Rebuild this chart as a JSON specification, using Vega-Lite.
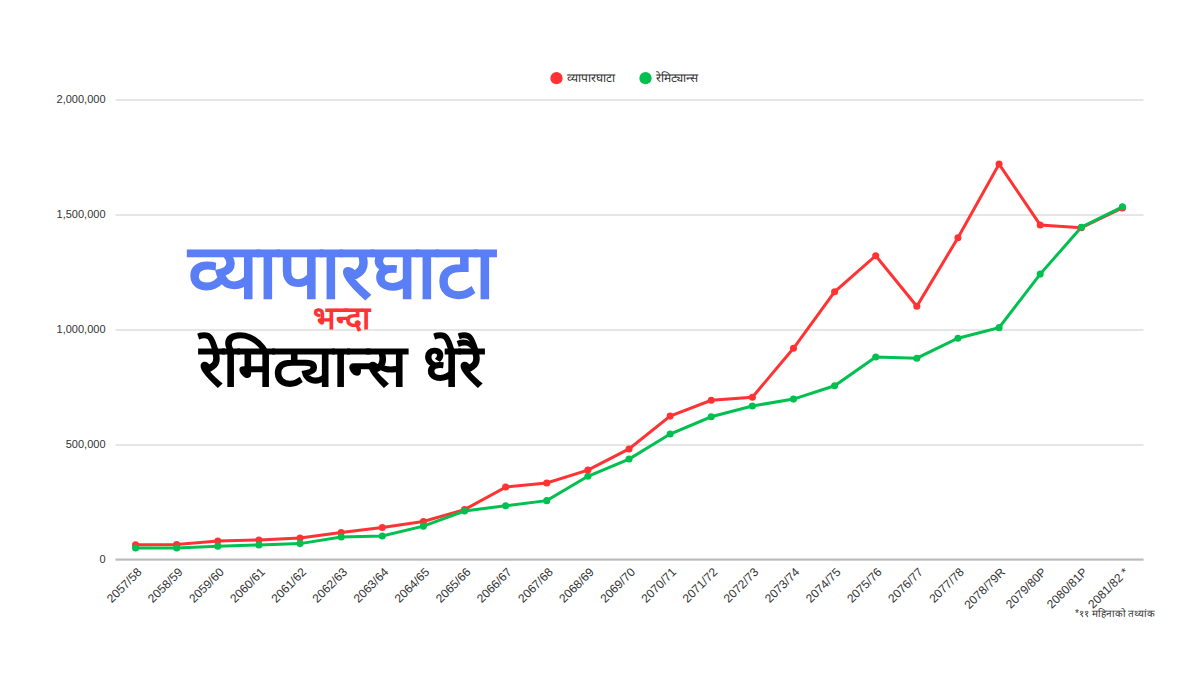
{
  "$schema": "https://vega.github.io/schema/vega-lite/v6.json",
  "width": 1028,
  "height": 459.5,
  "autosize": {"type": "none"},
  "padding": {"left": 115, "top": 99.5, "right": 57, "bottom": 116},
  "background": "white",
  "config": {"view": {"stroke": null}, "font": "Liberation Sans"},
  "datasets": {
    "series": [
      {"year": "2057/58", "series": "व्यापारघाटा", "value": 62000},
      {"year": "2058/59", "series": "व्यापारघाटा", "value": 63000},
      {"year": "2059/60", "series": "व्यापारघाटा", "value": 78000},
      {"year": "2060/61", "series": "व्यापारघाटा", "value": 83000},
      {"year": "2061/62", "series": "व्यापारघाटा", "value": 91000},
      {"year": "2062/63", "series": "व्यापारघाटा", "value": 115000},
      {"year": "2063/64", "series": "व्यापारघाटा", "value": 137000},
      {"year": "2064/65", "series": "व्यापारघाटा", "value": 163000},
      {"year": "2065/66", "series": "व्यापारघाटा", "value": 215000},
      {"year": "2066/67", "series": "व्यापारघाटा", "value": 313000},
      {"year": "2067/68", "series": "व्यापारघाटा", "value": 331000},
      {"year": "2068/69", "series": "व्यापारघाटा", "value": 387000},
      {"year": "2069/70", "series": "व्यापारघाटा", "value": 479000},
      {"year": "2070/71", "series": "व्यापारघाटा", "value": 622000},
      {"year": "2071/72", "series": "व्यापारघाटा", "value": 691000},
      {"year": "2072/73", "series": "व्यापारघाटा", "value": 704000},
      {"year": "2073/74", "series": "व्यापारघाटा", "value": 917000},
      {"year": "2074/75", "series": "व्यापारघाटा", "value": 1163000},
      {"year": "2075/76", "series": "व्यापारघाटा", "value": 1320000},
      {"year": "2076/77", "series": "व्यापारघाटा", "value": 1100000},
      {"year": "2077/78", "series": "व्यापारघाटा", "value": 1398000},
      {"year": "2078/79R", "series": "व्यापारघाटा", "value": 1719000},
      {"year": "2079/80P", "series": "व्यापारघाटा", "value": 1454000},
      {"year": "2080/81P", "series": "व्यापारघाटा", "value": 1442000},
      {"year": "2081/82 *", "series": "व्यापारघाटा", "value": 1528000},
      {"year": "2057/58", "series": "रेमिट्यान्स", "value": 48000},
      {"year": "2058/59", "series": "रेमिट्यान्स", "value": 48000},
      {"year": "2059/60", "series": "रेमिट्यान्स", "value": 56000},
      {"year": "2060/61", "series": "रेमिट्यान्स", "value": 61000},
      {"year": "2061/62", "series": "रेमिट्यान्स", "value": 67000},
      {"year": "2062/63", "series": "रेमिट्यान्स", "value": 96000},
      {"year": "2063/64", "series": "रेमिट्यान्स", "value": 100000},
      {"year": "2064/65", "series": "रेमिट्यान्स", "value": 143000},
      {"year": "2065/66", "series": "रेमिट्यान्स", "value": 209000},
      {"year": "2066/67", "series": "रेमिट्यान्स", "value": 232000},
      {"year": "2067/68", "series": "रेमिट्यान्स", "value": 254000},
      {"year": "2068/69", "series": "रेमिट्यान्स", "value": 360000},
      {"year": "2069/70", "series": "रेमिट्यान्स", "value": 435000},
      {"year": "2070/71", "series": "रेमिट्यान्स", "value": 544000},
      {"year": "2071/72", "series": "रेमिट्यान्स", "value": 619000},
      {"year": "2072/73", "series": "रेमिट्यान्स", "value": 666000},
      {"year": "2073/74", "series": "रेमिट्यान्स", "value": 696000},
      {"year": "2074/75", "series": "रेमिट्यान्स", "value": 754000},
      {"year": "2075/76", "series": "रेमिट्यान्स", "value": 879000},
      {"year": "2076/77", "series": "रेमिट्यान्स", "value": 874000},
      {"year": "2077/78", "series": "रेमिट्यान्स", "value": 961000},
      {"year": "2078/79R", "series": "रेमिट्यान्स", "value": 1007000},
      {"year": "2079/80P", "series": "रेमिट्यान्स", "value": 1240000},
      {"year": "2080/81P", "series": "रेमिट्यान्स", "value": 1444000},
      {"year": "2081/82 *", "series": "रेमिट्यान्स", "value": 1533000}
    ]
  },
  "layer": [
    {
      "data": {"name": "series"},
      "mark": {"type": "line", "strokeWidth": 3},
      "encoding": {
        "x": {
          "field": "year", "type": "ordinal", "sort": null,
          "scale": {"type": "point", "padding": 0.5},
          "axis": {
            "labelAngle": -45, "labelFontSize": 12, "labelColor": "#333333",
            "ticks": false, "grid": false, "domainColor": "#bbbbbb", "domainWidth": 2,
            "labelPadding": 7,
            "title": "*११ महिनाको तथ्यांक", "titleFontSize": 10, "titleFontWeight": "normal",
            "titleColor": "#333333", "titleAlign": "right", "titleBaseline": "middle",
            "titleX": 1040, "titleY": 54
          }
        },
        "y": {
          "field": "value", "type": "quantitative",
          "scale": {"domain": [0, 2000000]},
          "axis": {
            "values": [0, 500000, 1000000, 1500000, 2000000], "format": ",d",
            "title": null, "domain": false, "ticks": false, "labelPadding": 10,
            "labelFontSize": 11, "labelColor": "#333333", "gridColor": "#cccccc"
          }
        },
        "color": {
          "field": "series", "type": "nominal", "sort": null,
          "scale": {"domain": ["व्यापारघाटा", "रेमिट्यान्स"], "range": ["#ff3333", "#00c050"]},
          "legend": {
            "title": null, "orient": "none", "direction": "horizontal",
            "legendX": 435, "legendY": -28, "symbolType": "circle", "symbolSize": 150,
            "symbolStrokeWidth": 0, "labelFontSize": 12, "labelColor": "#333333", "columnPadding": 24
          }
        }
      }
    },
    {
      "data": {"name": "series"},
      "mark": {"type": "point", "filled": true, "size": 50, "opacity": 1},
      "encoding": {
        "x": {"field": "year", "type": "ordinal", "sort": null},
        "y": {"field": "value", "type": "quantitative"},
        "color": {"field": "series", "type": "nominal", "sort": null}
      }
    },
    {
      "data": {"values": [{"label": "व्यापारघाटा"}]},
      "mark": {"type": "text", "fontSize": 76, "fontWeight": "bold", "color": "#5a7ef5", "align": "center", "baseline": "middle"},
      "encoding": {
        "x": {"datum": "2062/63", "type": "ordinal"},
        "y": {"datum": 1235000, "type": "quantitative"},
        "text": {"field": "label"}
      }
    },
    {
      "data": {"values": [{"label": "भन्दा"}]},
      "mark": {"type": "text", "fontSize": 32, "fontWeight": "bold", "color": "#ff3333", "align": "center", "baseline": "middle"},
      "encoding": {
        "x": {"datum": "2062/63", "type": "ordinal"},
        "y": {"datum": 1045000, "type": "quantitative"},
        "text": {"field": "label"}
      }
    },
    {
      "data": {"values": [{"label": "रेमिट्यान्स धेरै"}]},
      "mark": {"type": "text", "fontSize": 59, "fontWeight": "bold", "color": "#000000", "align": "center", "baseline": "middle"},
      "encoding": {
        "x": {"datum": "2062/63", "type": "ordinal"},
        "y": {"datum": 830000, "type": "quantitative"},
        "text": {"field": "label"}
      }
    }
  ]
}
